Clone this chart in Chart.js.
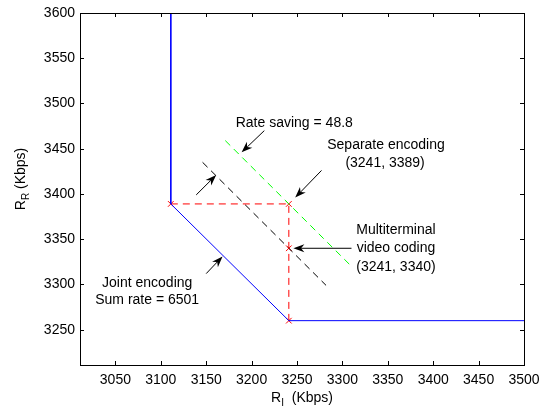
<!DOCTYPE html>
<html>
<head>
<meta charset="utf-8">
<script src="https://cdn.jsdelivr.net/npm/chart.js@4/dist/chart.umd.min.js"></script>
<style>
  body { margin: 0; background: #fff; }
  canvas { display: block; }
</style>
</head>
<body>
<canvas id="chart" width="542" height="408"></canvas>
<script>
// tick labels
const xTicks = [3050, 3100, 3150, 3200, 3250, 3300, 3350, 3400, 3450, 3500];
const yTicks = [3250, 3300, 3350, 3400, 3450, 3500, 3550, 3600];

// rate region boundary (joint encoding, sum rate 6501)
const boundaryX = [3111, 3111, 3241, 3500];
const boundaryY = [3600, 3389, 3260, 3260];

// red dashed guides from separate encoding point
const guideX = [3111, 3241, 3241];
const guideY = [3389, 3389, 3260];

// red x markers
const markX = [3111, 3241, 3241, 3241];
const markY = [3389, 3389, 3340, 3260];

// equal sum-rate lines
const sepLineX = [3171, 3308];
const sepLineY = [3459, 3322];
const mtLineX = [3146, 3282];
const mtLineY = [3435, 3299];

// text annotations (data coords, centred)
const noteText = ['Rate saving = 48.8', 'Separate encoding', '(3241, 3389)',
  'Multiterminal', 'video coding', '(3241, 3340)', 'Joint encoding', 'Sum rate = 6501'];
const noteX = [3247, 3348, 3347, 3359, 3359, 3359, 3085, 3085];
const noteY = [3478, 3454, 3434, 3360, 3340, 3319, 3302, 3283];

// arrows: tail -> head (data coords)
const arrowX0 = [3214, 3139, 3277, 3310, 3150];
const arrowY0 = [3470, 3399, 3426, 3340, 3312];
const arrowX1 = [3189, 3161, 3248, 3246, 3168];
const arrowY1 = [3446, 3421, 3396, 3340, 3331];

const FONT = "'Liberation Sans', Arial, sans-serif";
const pts = (xs, ys) => xs.map((x, i) => ({ x: x, y: ys[i] }));

const frame = {
  id: 'frame',
  afterDraw(chart) {
    const { ctx, chartArea: a, scales } = chart;
    const sx = scales.x, sy = scales.y;
    ctx.save();
    // box
    ctx.strokeStyle = '#000';
    ctx.lineWidth = 1;
    ctx.strokeRect(a.left + 0.5, a.top + 0.5, a.right - a.left, a.bottom - a.top);
    // inward ticks
    ctx.beginPath();
    xTicks.forEach(v => {
      const px = Math.round(sx.getPixelForValue(v)) + 0.5;
      ctx.moveTo(px, a.bottom); ctx.lineTo(px, a.bottom - 4);
      ctx.moveTo(px, a.top); ctx.lineTo(px, a.top + 4);
    });
    yTicks.forEach(v => {
      const py = Math.round(sy.getPixelForValue(v)) + 0.5;
      ctx.moveTo(a.left, py); ctx.lineTo(a.left + 4, py);
      ctx.moveTo(a.right, py); ctx.lineTo(a.right - 4, py);
    });
    ctx.stroke();

    // notes
    ctx.fillStyle = '#000';
    ctx.font = '14px ' + FONT;
    ctx.textAlign = 'center';
    ctx.textBaseline = 'middle';
    noteText.forEach((t, i) => {
      ctx.fillText(t, sx.getPixelForValue(noteX[i]), sy.getPixelForValue(noteY[i]));
    });

    // arrows
    arrowX0.forEach((_, i) => {
      const x0 = sx.getPixelForValue(arrowX0[i]), y0 = sy.getPixelForValue(arrowY0[i]);
      const x1 = sx.getPixelForValue(arrowX1[i]), y1 = sy.getPixelForValue(arrowY1[i]);
      const ang = Math.atan2(y1 - y0, x1 - x0);
      const L = 11, W = 4;
      const bx = x1 - L * Math.cos(ang), by = y1 - L * Math.sin(ang);
      const nx = x1 - 0.7 * L * Math.cos(ang), ny = y1 - 0.7 * L * Math.sin(ang);
      ctx.strokeStyle = '#000';
      ctx.beginPath();
      ctx.moveTo(x0, y0); ctx.lineTo(nx, ny);
      ctx.stroke();
      ctx.beginPath();
      ctx.moveTo(x1, y1);
      ctx.lineTo(bx - W * Math.sin(ang), by + W * Math.cos(ang));
      ctx.lineTo(nx, ny);
      ctx.lineTo(bx + W * Math.sin(ang), by - W * Math.cos(ang));
      ctx.closePath();
      ctx.fill();
    });

    // axis titles with subscripts
    ctx.textAlign = 'left';
    ctx.textBaseline = 'alphabetic';
    const drawSub = (main, sub, rest, cx, cy) => {
      ctx.font = '14px ' + FONT;
      const w1 = ctx.measureText(main).width;
      const w3 = ctx.measureText(rest).width;
      ctx.font = '10px ' + FONT;
      const w2 = ctx.measureText(sub).width;
      let x = cx - (w1 + w2 + w3) / 2;
      ctx.font = '14px ' + FONT;
      ctx.fillText(main, x, cy + 5); x += w1;
      ctx.font = '10px ' + FONT;
      ctx.fillText(sub, x, cy + 9); x += w2;
      ctx.font = '14px ' + FONT;
      ctx.fillText(rest, x, cy + 5);
    };
    drawSub('R', 'I', '  (Kbps)', 302, 397);
    ctx.translate(20, 179);
    ctx.rotate(-Math.PI / 2);
    drawSub('R', 'R', ' (Kbps)', 0, 0);
    ctx.restore();
  }
};

new Chart(document.getElementById('chart'), {
  type: 'scatter',
  plugins: [frame],
  data: {
    datasets: [
      { data: pts(boundaryX, boundaryY), showLine: true, borderColor: 'rgb(0,0,255)', borderWidth: 1, pointRadius: 0 },
      { data: pts(guideX, guideY), showLine: true, borderColor: 'rgb(255,0,0)', borderWidth: 1, borderDash: [7, 5], pointRadius: 0 },
      { data: pts(sepLineX, sepLineY), showLine: true, borderColor: 'rgb(0,255,0)', borderWidth: 1, borderDash: [7, 5], pointRadius: 0 },
      { data: pts(mtLineX, mtLineY), showLine: true, borderColor: 'rgb(0,0,0)', borderWidth: 1, borderDash: [7, 5], pointRadius: 0 },
      { data: pts(markX, markY), showLine: false, pointStyle: 'crossRot', pointRadius: 4, borderColor: 'rgb(255,0,0)', borderWidth: 1 }
    ]
  },
  options: {
    responsive: false,
    animation: false,
    layout: { padding: { top: 13, right: 18, left: 0, bottom: 0 } },
    plugins: { legend: { display: false }, tooltip: { enabled: false } },
    scales: {
      x: {
        type: 'linear', min: 3011, max: 3500,
        afterBuildTicks: s => { s.ticks = xTicks.map(v => ({ value: v })); },
        afterFit: s => { s.height = 43; s.paddingRight = 0; s.paddingLeft = 0; },
        grid: { display: true, drawOnChartArea: false, drawTicks: false },
        border: { display: false },
        ticks: { color: '#000', font: { family: FONT, size: 14 }, padding: 7, maxRotation: 0, autoSkip: false,
          callback: v => String(v) }
      },
      y: {
        type: 'linear', min: 3211, max: 3600,
        afterBuildTicks: s => { s.ticks = yTicks.map(v => ({ value: v })); },
        afterFit: s => { s.width = 80; s.paddingTop = 0; s.paddingBottom = 0; },
        grid: { display: true, drawOnChartArea: false, drawTicks: false },
        border: { display: false },
        ticks: { color: '#000', font: { family: FONT, size: 14 }, padding: 5, autoSkip: false,
          callback: v => String(v) }
      }
    }
  }
});
</script>
</body>
</html>
